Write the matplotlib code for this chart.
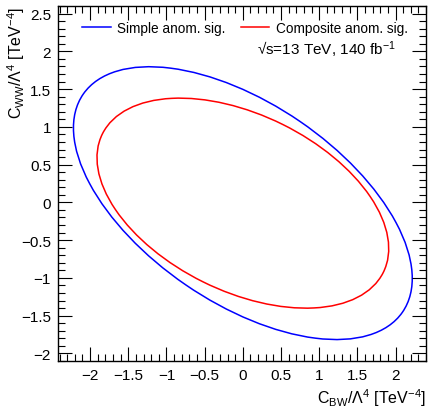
import numpy as np
import matplotlib
matplotlib.use("Agg")
import matplotlib.pyplot as plt
from matplotlib.patches import Ellipse
from matplotlib.ticker import MultipleLocator, FuncFormatter

plt.rcParams['font.family'] = ['Liberation Sans', 'DejaVu Sans']
plt.rcParams['mathtext.default'] = 'regular'

# contour ellipses: centre, full width, full height, tilt (deg)
labels = ["Simple anom. sig.", "Composite anom. sig."]
colors = ["blue", "red"]
centers = [(0.0, -0.01), (0.0, -0.01)]
widths = [5.08, 4.11]
heights = [2.63, 2.33]
angles = [-34.7, -26.6]

x_range = (-2.42, 2.40)
y_range = (-2.10, 2.60)


def minus_fmt(v, pos):
    return f"{v:g}".replace("-", "\u2212")


fig = plt.figure(figsize=(4.3, 4.1), dpi=100)
ax = fig.add_axes([0.135, 0.117, 0.856, 0.866])

for c, w, h, a, col, lab in zip(centers, widths, heights, angles, colors, labels):
    e = Ellipse(c, w, h, angle=a, fill=False, edgecolor=col, lw=1.1)
    ax.add_patch(e)
    # proxy line for legend
    ax.plot([], [], color=col, lw=1.1, label=lab)

ax.set_xlim(*x_range)
ax.set_ylim(*y_range)

ax.xaxis.set_major_locator(MultipleLocator(0.5))
ax.xaxis.set_minor_locator(MultipleLocator(0.1))
ax.yaxis.set_major_locator(MultipleLocator(0.5))
ax.yaxis.set_minor_locator(MultipleLocator(0.1))
ax.xaxis.set_major_formatter(FuncFormatter(minus_fmt))
ax.yaxis.set_major_formatter(FuncFormatter(minus_fmt))
ax.tick_params(which='both', direction='in', top=True, right=True, labelsize=11, width=0.8)
ax.tick_params(which='major', length=10, pad=5)
ax.tick_params(which='minor', length=5)
for s in ax.spines.values():
    s.set_linewidth(1.0)

ax.set_xlabel(r"$C_{BW}/\Lambda^{4}$ [TeV$^{-4}$]", fontsize=11.5, loc='right')
ax.xaxis.set_label_coords(1.0, -0.103)
ax.xaxis.label.set_va('center')
ax.set_ylabel(r"$C_{WW}/\Lambda^{4}$ [TeV$^{-4}$]", fontsize=11.5, loc='top')
ax.yaxis.set_label_coords(-0.085, 1.0)

ax.legend(loc='center left', bbox_to_anchor=(0.0652, 0.938), ncol=2, frameon=False,
          fontsize=9.8, handlelength=2.1, columnspacing=1.1, handletextpad=0.5,
          borderpad=0, borderaxespad=0)
ax.text(0.916, 0.879, "\u221As=13 TeV, 140 fb$^{-1}$", transform=ax.transAxes,
        ha='right', va='center', fontsize=11)

fig.savefig("out.png", dpi=100)
